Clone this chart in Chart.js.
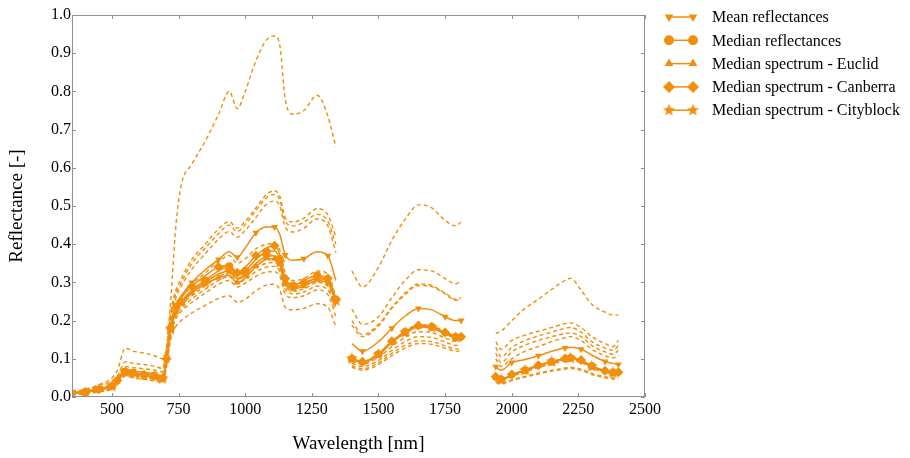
<!DOCTYPE html>
<html>
<head>
<meta charset="utf-8">
<title>Reflectance spectra</title>
<script src="https://cdn.jsdelivr.net/npm/chart.js@4.4.1/dist/chart.umd.min.js"></script>
<style>
    html, body { margin: 0; padding: 0; background: #fff; }
    #wrap { position: relative; width: 910px; height: 458px; }
</style>
</head>
<body>
<div id="wrap"><canvas id="spectraChart"></canvas></div>
<script>
// Wavelength grid [nm] - the null rows (1370, 1875) are the removed water bands
const wavelengths = [
    350, 400, 450, 500, 520, 550, 580, 620, 660, 690, 705, 720, 740, 760, 800, 850, 900, 940, 970, 1000, 1040, 1080, 1110, 1130, 1150, 1180, 1220, 1270, 1310, 1340,
    1370,
    1400, 1440, 1500, 1550, 1600, 1650, 1700, 1750, 1790, 1810,
    1875,
    1940, 1960, 2000, 2050, 2100, 2150, 2200, 2220, 2260, 2300, 2350, 2380, 2400
];

const xTickValues = [500, 750, 1000, 1250, 1500, 1750, 2000, 2250, 2500];
const yTickValues = [0, 0.1, 0.2, 0.3, 0.4, 0.5, 0.6, 0.7, 0.8, 0.9, 1.0];

// Solid series (shown in legend)
const seriesNames = ['Mean reflectances', 'Median reflectances', 'Median spectrum - Euclid', 'Median spectrum - Canberra', 'Median spectrum - Cityblock'];

const meanRefl = [
    0.012, 0.015, 0.022, 0.032, 0.046, 0.072, 0.068, 0.064, 0.06, 0.055, 0.105, 0.19, 0.24, 0.265, 0.3, 0.333, 0.36, 0.38, 0.366, 0.39, 0.43, 0.445, 0.445, 0.425, 0.372, 0.358, 0.362, 0.38, 0.37, 0.305,
    null,
    0.14, 0.12, 0.145, 0.18, 0.212, 0.232, 0.228, 0.21, 0.2, 0.2,
    null,
    0.079, 0.07, 0.09, 0.098, 0.108, 0.12, 0.128, 0.13, 0.125, 0.11, 0.093, 0.088, 0.085
];
const medianRefl = [
    0.01, 0.013, 0.02, 0.028, 0.042, 0.066, 0.062, 0.058, 0.054, 0.049, 0.098, 0.18, 0.228, 0.25, 0.28, 0.305, 0.33, 0.342, 0.318, 0.33, 0.36, 0.38, 0.382, 0.36, 0.305, 0.292, 0.305, 0.318, 0.308, 0.255,
    null,
    0.1, 0.092, 0.112, 0.145, 0.17, 0.186, 0.183, 0.168, 0.157, 0.157,
    null,
    0.052, 0.046, 0.058, 0.07, 0.082, 0.092, 0.1, 0.102, 0.096, 0.081, 0.068, 0.064, 0.064
];
const euclidRefl = [
    0.009, 0.012, 0.019, 0.027, 0.04, 0.064, 0.06, 0.056, 0.052, 0.047, 0.095, 0.175, 0.222, 0.244, 0.272, 0.295, 0.312, 0.318, 0.3, 0.312, 0.342, 0.36, 0.362, 0.345, 0.295, 0.283, 0.29, 0.305, 0.298, 0.248,
    null,
    0.098, 0.09, 0.11, 0.142, 0.167, 0.183, 0.18, 0.166, 0.155, 0.155,
    null,
    0.05, 0.045, 0.057, 0.069, 0.081, 0.091, 0.099, 0.101, 0.095, 0.08, 0.067, 0.063, 0.063
];
const canberraRefl = [
    0.01, 0.013, 0.02, 0.029, 0.043, 0.068, 0.063, 0.059, 0.055, 0.05, 0.1, 0.185, 0.235, 0.26, 0.29, 0.318, 0.34, 0.345, 0.325, 0.34, 0.37, 0.39, 0.396, 0.372, 0.31, 0.295, 0.3, 0.31, 0.31, 0.258,
    null,
    0.101, 0.092, 0.113, 0.146, 0.171, 0.187, 0.184, 0.169, 0.158, 0.158,
    null,
    0.053, 0.046, 0.059, 0.071, 0.083, 0.093, 0.101, 0.103, 0.097, 0.082, 0.069, 0.065, 0.065
];
const cityblockRefl = [
    0.009, 0.012, 0.019, 0.028, 0.041, 0.065, 0.061, 0.057, 0.053, 0.048, 0.096, 0.178, 0.226, 0.248, 0.276, 0.3, 0.322, 0.33, 0.31, 0.322, 0.35, 0.368, 0.37, 0.352, 0.3, 0.287, 0.295, 0.31, 0.302, 0.252,
    null,
    0.1, 0.091, 0.111, 0.144, 0.169, 0.185, 0.182, 0.167, 0.156, 0.156,
    null,
    0.051, 0.045, 0.057, 0.07, 0.082, 0.092, 0.1, 0.102, 0.096, 0.08, 0.067, 0.063, 0.063
];

// Individual spectra (dashed)
const spec1 = [
    0.015, 0.02, 0.032, 0.05, 0.07, 0.128, 0.12, 0.115, 0.108, 0.1, 0.13, 0.25, 0.45, 0.555, 0.61, 0.67, 0.74, 0.8, 0.755, 0.8, 0.88, 0.935, 0.945, 0.92, 0.78, 0.74, 0.75, 0.79, 0.735, 0.655,
    null,
    0.33, 0.288, 0.34, 0.41, 0.465, 0.503, 0.495, 0.462, 0.448, 0.458,
    null,
    0.167, 0.172, 0.2, 0.232, 0.256, 0.282, 0.305, 0.311, 0.28, 0.243, 0.222, 0.215, 0.215
];
const spec2 = [
    0.012, 0.018, 0.03, 0.042, 0.055, 0.092, 0.088, 0.085, 0.08, 0.075, 0.13, 0.22, 0.28, 0.31, 0.36, 0.4, 0.44, 0.459, 0.442, 0.46, 0.495, 0.53, 0.54, 0.525, 0.47, 0.458, 0.468, 0.493, 0.477, 0.42,
    null,
    0.23, 0.19, 0.21, 0.26, 0.305, 0.333, 0.33, 0.31, 0.296, 0.305,
    null,
    0.145, 0.125, 0.148, 0.162, 0.172, 0.182, 0.192, 0.194, 0.182, 0.158, 0.14, 0.132, 0.148
];
const spec3 = [
    0.011, 0.016, 0.026, 0.036, 0.05, 0.08, 0.077, 0.074, 0.07, 0.066, 0.12, 0.21, 0.27, 0.3, 0.35, 0.39, 0.428, 0.45, 0.433, 0.452, 0.488, 0.522, 0.53, 0.515, 0.46, 0.448, 0.458, 0.478, 0.46, 0.4,
    null,
    0.2, 0.163, 0.19, 0.235, 0.272, 0.296, 0.292, 0.272, 0.256, 0.26,
    null,
    0.13, 0.105, 0.13, 0.148, 0.16, 0.17, 0.18, 0.182, 0.17, 0.145, 0.128, 0.122, 0.135
];
const spec4 = [
    0.01, 0.014, 0.022, 0.032, 0.045, 0.07, 0.067, 0.064, 0.06, 0.057, 0.11, 0.2, 0.26, 0.29, 0.335, 0.375, 0.413, 0.433, 0.418, 0.436, 0.47, 0.505, 0.513, 0.5, 0.445, 0.432, 0.442, 0.466, 0.448, 0.378,
    null,
    0.188, 0.158, 0.186, 0.232, 0.268, 0.292, 0.289, 0.27, 0.253, 0.257,
    null,
    0.115, 0.09, 0.118, 0.136, 0.148, 0.158, 0.166, 0.168, 0.158, 0.135, 0.118, 0.112, 0.122
];
const spec5 = [
    0.01, 0.012, 0.02, 0.03, 0.042, 0.066, 0.062, 0.058, 0.054, 0.05, 0.1, 0.185, 0.24, 0.262, 0.295, 0.325, 0.355, 0.37, 0.35, 0.362, 0.388, 0.4, 0.402, 0.385, 0.325, 0.305, 0.31, 0.33, 0.322, 0.262,
    null,
    0.105, 0.093, 0.115, 0.145, 0.172, 0.19, 0.186, 0.172, 0.16, 0.162,
    null,
    0.1, 0.08, 0.1, 0.12, 0.132, 0.145, 0.155, 0.158, 0.148, 0.125, 0.108, 0.102, 0.11
];
const spec6 = [
    0.008, 0.011, 0.018, 0.027, 0.04, 0.062, 0.058, 0.054, 0.05, 0.046, 0.09, 0.17, 0.22, 0.24, 0.265, 0.29, 0.315, 0.325, 0.308, 0.318, 0.338, 0.35, 0.352, 0.338, 0.29, 0.278, 0.283, 0.3, 0.29, 0.238,
    null,
    0.094, 0.086, 0.104, 0.132, 0.156, 0.171, 0.168, 0.155, 0.146, 0.148,
    null,
    0.05, 0.043, 0.056, 0.068, 0.08, 0.09, 0.098, 0.1, 0.093, 0.078, 0.066, 0.062, 0.062
];
const spec7 = [
    0.008, 0.01, 0.016, 0.025, 0.038, 0.06, 0.056, 0.052, 0.048, 0.044, 0.088, 0.165, 0.212, 0.232, 0.257, 0.282, 0.305, 0.315, 0.298, 0.308, 0.328, 0.34, 0.342, 0.328, 0.282, 0.27, 0.275, 0.29, 0.28, 0.228,
    null,
    0.088, 0.08, 0.096, 0.122, 0.145, 0.158, 0.156, 0.144, 0.135, 0.136,
    null,
    0.048, 0.042, 0.054, 0.066, 0.077, 0.087, 0.095, 0.097, 0.09, 0.076, 0.064, 0.06, 0.06
];
const spec8 = [
    0.007, 0.009, 0.015, 0.024, 0.036, 0.058, 0.054, 0.05, 0.046, 0.042, 0.085, 0.16, 0.205, 0.224, 0.248, 0.272, 0.295, 0.305, 0.288, 0.298, 0.316, 0.327, 0.328, 0.315, 0.27, 0.26, 0.265, 0.28, 0.268, 0.21,
    null,
    0.082, 0.074, 0.09, 0.114, 0.135, 0.147, 0.145, 0.134, 0.126, 0.126,
    null,
    0.04, 0.036, 0.045, 0.054, 0.063, 0.07, 0.076, 0.078, 0.073, 0.062, 0.053, 0.05, 0.05
];
const spec9 = [
    0.006, 0.008, 0.013, 0.022, 0.034, 0.055, 0.05, 0.046, 0.042, 0.038, 0.08, 0.15, 0.185, 0.2, 0.22, 0.24, 0.258, 0.265, 0.248, 0.256, 0.278, 0.293, 0.295, 0.28, 0.235, 0.228, 0.232, 0.244, 0.235, 0.185,
    null,
    0.078, 0.07, 0.085, 0.108, 0.128, 0.14, 0.138, 0.128, 0.12, 0.12,
    null,
    0.038, 0.034, 0.043, 0.052, 0.06, 0.068, 0.073, 0.075, 0.07, 0.059, 0.05, 0.047, 0.047
];

const ORANGE = 'rgb(241, 142, 12)';
const FONT = '"Liberation Serif", "Times New Roman", serif';

// Filled five-point star used as a marker
function starMarker(size) {
    const c = document.createElement('canvas');
    c.width = c.height = size;
    const g = c.getContext('2d');
    g.fillStyle = ORANGE;
    g.beginPath();
    for (let k = 0; k < 10; k++) {
        const r = k % 2 ? size * 0.21 : size * 0.5;
        const a = -Math.PI / 2 + k * Math.PI / 5;
        g.lineTo(size / 2 + r * Math.cos(a), size / 2 + r * Math.sin(a));
    }
    g.closePath();
    g.fill();
    return c;
}

function toPoints(values) {
    return wavelengths.map((w, i) => ({ x: w, y: values[i] }));
}

// markers on every other sample, staggered between series
function solidSeries(label, values, style, size, offset, rotation) {
    return {
        label: label,
        data: toPoints(values),
        inLegend: true,
        markerSize: size,
        borderColor: ORANGE,
        backgroundColor: ORANGE,
        borderWidth: 1.5,
        pointStyle: style,
        pointRadius: c => ((c.dataIndex + offset) % 2 === 0 ? size : 0),
        pointRotation: rotation || 0,
        pointBorderWidth: 0,
        pointBackgroundColor: ORANGE,
        cubicInterpolationMode: 'monotone',
        spanGaps: false,
        fill: false
    };
}

function dashedSeries(values) {
    return {
        label: '',
        data: toPoints(values),
        inLegend: false,
        borderColor: ORANGE,
        borderWidth: 1.4,
        borderDash: [4, 3],
        pointRadius: 0,
        cubicInterpolationMode: 'monotone',
        spanGaps: false,
        fill: false
    };
}

// Inward frame ticks on all four sides, like the original frame
const frameTicks = {
    id: 'frameTicks',
    afterDatasetsDraw(chart) {
        const { ctx, chartArea: a, scales: { x, y } } = chart;
        ctx.save();
        ctx.strokeStyle = '#8f8f8f';
        ctx.lineWidth = 1;
        ctx.strokeRect(a.left + 0.5, a.top + 0.5, a.right - a.left - 1, a.bottom - a.top - 1);
        ctx.beginPath();
        xTickValues.forEach(v => {
            const px = Math.round(x.getPixelForValue(v)) + 0.5;
            ctx.moveTo(px, a.bottom); ctx.lineTo(px, a.bottom - 4);
            ctx.moveTo(px, a.top); ctx.lineTo(px, a.top + 4);
        });
        yTickValues.forEach(v => {
            const py = Math.round(y.getPixelForValue(v)) + 0.5;
            ctx.moveTo(a.left, py); ctx.lineTo(a.left + 4, py);
            ctx.moveTo(a.right, py); ctx.lineTo(a.right - 4, py);
        });
        ctx.stroke();
        ctx.restore();
    }
};

// Legend at the right: marker - line - marker, then the label
const sideLegend = {
    id: 'sideLegend',
    afterDraw(chart) {
        const { ctx, chartArea: a } = chart;
        const x0 = a.right + 24;
        const x1 = a.right + 48;
        ctx.save();
        chart.data.datasets.filter(d => d.inLegend).forEach((ds, i) => {
            const y = 17 + i * 23.3;
            ctx.strokeStyle = ORANGE;
            ctx.lineWidth = 1.5;
            ctx.setLineDash([]);
            ctx.beginPath();
            ctx.moveTo(x0, y);
            ctx.lineTo(x1, y);
            ctx.stroke();
            ctx.fillStyle = ORANGE;
            [x0, x1].forEach(px => {
                Chart.helpers.drawPoint(ctx, {
                    pointStyle: ds.pointStyle,
                    radius: ds.markerSize + 1,
                    rotation: ds.pointRotation,
                    borderWidth: 0
                }, px, y);
            });
            ctx.fillStyle = '#000';
            ctx.font = '16px ' + FONT;
            ctx.textAlign = 'left';
            ctx.textBaseline = 'middle';
            ctx.fillText(ds.label, a.right + 67, y + 1);
        });
        ctx.restore();
    }
};

document.addEventListener('DOMContentLoaded', () => {
    const star = starMarker(13);
    const ctx = document.getElementById('spectraChart').getContext('2d');

    new Chart(ctx, {
        type: 'line',
        data: {
            datasets: [
                solidSeries(seriesNames[0], meanRefl, 'triangle', 4, 0, 180),
                solidSeries(seriesNames[1], medianRefl, 'circle', 4, 1),
                solidSeries(seriesNames[2], euclidRefl, 'triangle', 4, 0),
                solidSeries(seriesNames[3], canberraRefl, 'rectRot', 5, 0),
                solidSeries(seriesNames[4], cityblockRefl, star, 5.5, 1),
                dashedSeries(spec1),
                dashedSeries(spec2),
                dashedSeries(spec3),
                dashedSeries(spec4),
                dashedSeries(spec5),
                dashedSeries(spec6),
                dashedSeries(spec7),
                dashedSeries(spec8),
                dashedSeries(spec9)
            ]
        },
        options: {
            responsive: true,
            maintainAspectRatio: false,
            animation: false,
            layout: {
                padding: { top: 15, right: 265, left: 0, bottom: 0 }
            },
            plugins: {
                legend: { display: false },
                tooltip: { enabled: false }
            },
            scales: {
                x: {
                    type: 'linear',
                    min: 350,
                    max: 2500,
                    afterBuildTicks: s => { s.ticks = xTickValues.map(v => ({ value: v })); },
                    afterFit: s => { s.height = 61; },
                    grid: { display: false, drawTicks: false },
                    border: { display: false },
                    ticks: {
                        color: '#000',
                        padding: 3,
                        maxRotation: 0,
                        autoSkip: false,
                        font: { family: FONT, size: 16 },
                        callback: v => String(v)
                    },
                    title: {
                        display: true,
                        text: 'Wavelength [nm]',
                        color: '#000',
                        font: { family: FONT, size: 19 },
                        padding: { top: 0, bottom: 3 }
                    }
                },
                y: {
                    min: 0,
                    max: 1,
                    afterBuildTicks: s => { s.ticks = yTickValues.map(v => ({ value: v })); },
                    afterFit: s => { s.width = 72; },
                    grid: { display: false, drawTicks: false },
                    border: { display: false },
                    ticks: {
                        color: '#000',
                        padding: 1,
                        autoSkip: false,
                        font: { family: FONT, size: 16 },
                        callback: v => v.toFixed(1)
                    },
                    title: {
                        display: true,
                        text: 'Reflectance [-]',
                        color: '#000',
                        font: { family: FONT, size: 19 },
                        padding: { top: 6, bottom: 0 }
                    }
                }
            }
        },
        plugins: [frameTicks, sideLegend]
    });
});
</script>
</body>
</html>
